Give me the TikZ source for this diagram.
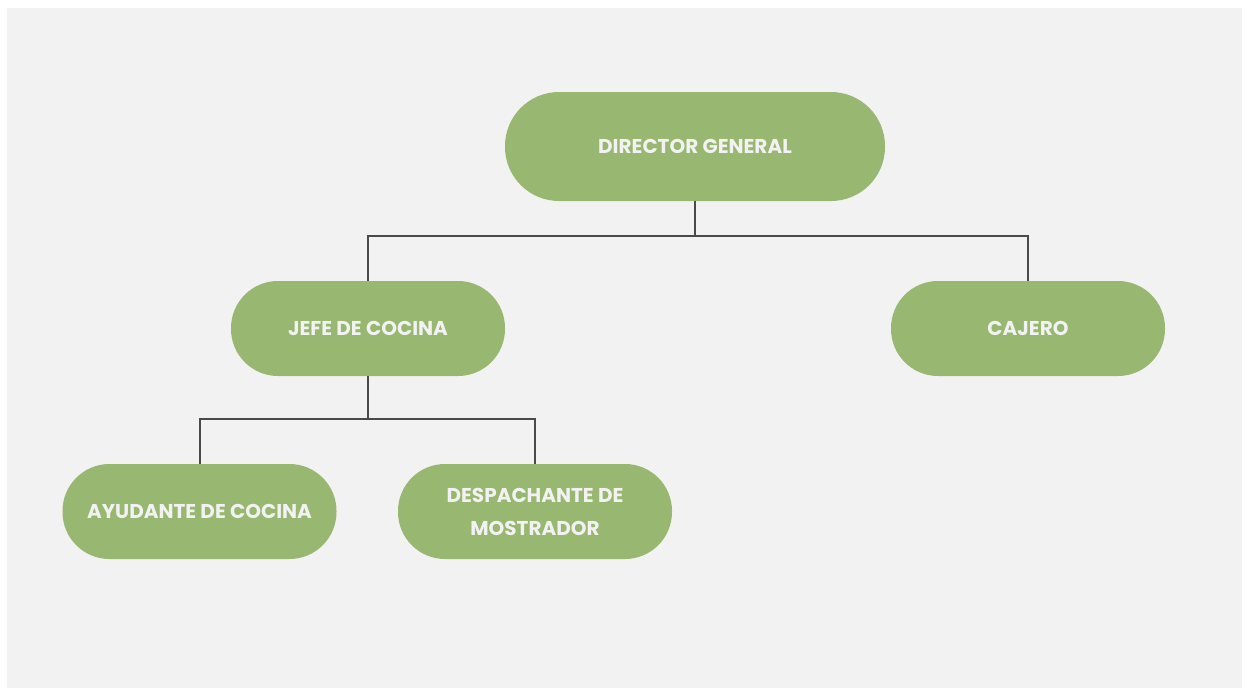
\documentclass[tikz,border=0pt]{standalone}
\usepackage{fontspec}
\setmainfont{Poppins}[BoldFont={Poppins Bold}]
\definecolor{bg}{HTML}{F2F2F2}
\definecolor{boxgreen}{HTML}{98B770}
\definecolor{txt}{HTML}{F2F2F2}
\definecolor{conn}{HTML}{4A4A4A}
\begin{document}
\begin{tikzpicture}[x=1pt,y=-1pt,
  pill/.style={draw=none,fill=boxgreen,rounded corners=47pt,minimum height=95pt,minimum width=274pt,
    align=center,text=txt,font=\bfseries\fontsize{20}{33}\selectfont,inner sep=0pt},
  link/.style={draw=conn,line width=2pt}]
\useasboundingbox (0,0) rectangle (1242,688);
\fill[white] (0,0) rectangle (1242,688);
\fill[bg] (7,8) rectangle (1242,688);
\node[pill,minimum width=380pt,minimum height=109pt,rounded corners=54pt] (dg) at (695,146.5) {DIRECTOR GENERAL};
\node[pill] (jefe) at (368,328.5) {JEFE DE COCINA};
\node[pill] (caj) at (1028,328.5) {CAJERO};
\node[pill] (ayu) at (199.5,511.5) {AYUDANTE DE COCINA};
\node[pill] (desp) at (535,511.5) {DESPACHANTE DE\\MOSTRADOR};
\coordinate (b1) at (695,236);
\coordinate (b2) at (368,419);
\draw[link] (dg.south) -- (b1);
\draw[link] (jefe.north) |- (b1) -| (caj.north);
\draw[link] (jefe.south) -- (b2);
\draw[link] (ayu.north) |- (b2) -| (desp.north);
\end{tikzpicture}
\end{document}
